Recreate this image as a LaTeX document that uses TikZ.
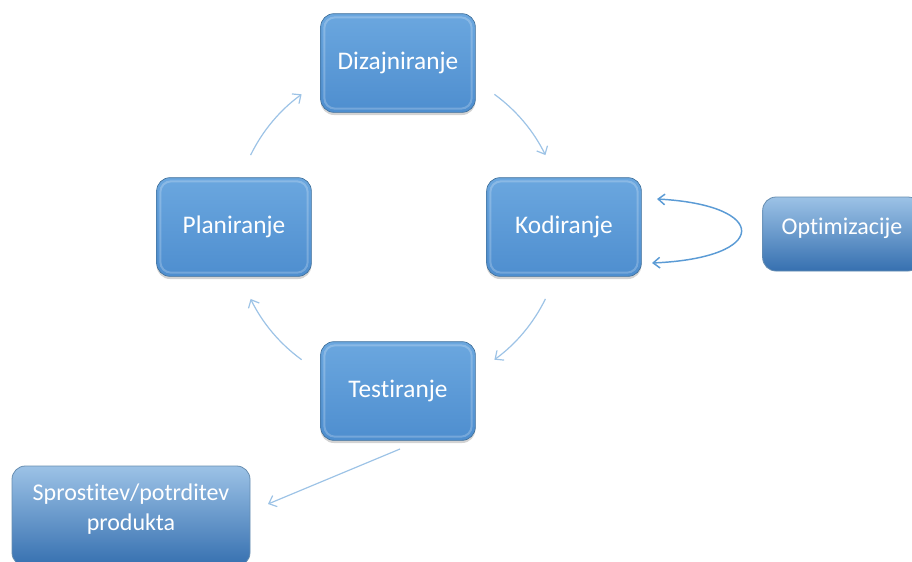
\documentclass[tikz,border=0pt]{standalone}
\usepackage{fontspec}
\setmainfont{Carlito}[Ligatures=NoCommon]
\usetikzlibrary{shadows,arrows.meta}
\definecolor{cyctop}{HTML}{6BA7DF}
\definecolor{cycbot}{HTML}{4E8ECF}
\definecolor{cycedge}{HTML}{41719C}
\definecolor{outtop}{HTML}{9CC2E6}
\definecolor{outbot}{HTML}{3670B0}
\definecolor{arrlight}{HTML}{9DC3E6}
\definecolor{arrdark}{HTML}{5B9BD5}
\begin{document}
\begin{tikzpicture}[x=0.75pt,y=-0.75pt,
  boxtext/.style={text=white,font=\fontsize{18}{22.5}\selectfont,align=center},
  cyctext/.style={text=white,font=\fontsize{19}{23}\selectfont,align=center},
  cyclebox/.style={cyctext,rounded corners=10pt,minimum width=116pt,minimum height=74pt,
    top color=cyctop,bottom color=cycbot,draw=cycedge,line width=0.5pt,
    drop shadow={shadow xshift=0pt,shadow yshift=-2pt,opacity=0.35}},
  outbox/.style={boxtext,rounded corners=10pt,top color=outtop,bottom color=outbot,
    draw=cycedge!80,line width=0.6pt},
  bevel/.style={draw=white,opacity=0.22,line width=1.5pt,rounded corners=8pt},
  cyc/.style={draw=arrlight,line width=0.9pt,-{Straight Barb[length=5pt,width=9pt]}},
  loopar/.style={draw=arrdark,line width=1.1pt,{Straight Barb[length=5pt,width=8pt]}-{Straight Barb[length=5pt,width=8pt]}}
]
\useasboundingbox (0,0) rectangle (912,561);
\clip (0,0) rectangle (912,561);

% cycle boxes
\node[cyclebox] (diz) at (398,63) {Dizajniranje};
\node[cyclebox] (plan) at (234,227) {Planiranje};
\node[cyclebox] (kod) at (564,227) {Kodiranje};
\node[cyclebox] (test) at (398,391) {Testiranje};
\foreach \n in {diz,plan,kod,test}{
  \draw[bevel] ([xshift=3pt,yshift=-3pt]\n.north west) rectangle ([xshift=-3pt,yshift=3pt]\n.south east);
}

% outer boxes
\node[outbox,minimum width=119pt,minimum height=55.5pt] (opt) at (842,234) {};
\node[boxtext] (optt) at (842,228) {Optimizacije};
\node[outbox,minimum width=178.5pt,minimum height=75pt] (spr) at (131,516) {};
\node[boxtext] (sprt) at (131,509) {Sprostitev/potrditev\\produkta};

% cycle arcs
\coordinate (c) at (398,227);
\path (c) ++(-154:164) coordinate (a1);
\path (c) ++(-54:164) coordinate (a2);
\path (c) ++(26:164) coordinate (a3);
\path (c) ++(126:164) coordinate (a4);
\draw[cyc] (a1) arc[start angle=-154,end angle=-126,radius=164];
\draw[cyc] (a2) arc[start angle=-54,end angle=-26,radius=164];
\draw[cyc] (a3) arc[start angle=26,end angle=54,radius=164];
\draw[cyc] (a4) arc[start angle=126,end angle=154,radius=164];

% loop at Kodiranje
\coordinate (ls) at (657,199);
\coordinate (le) at (652,263);
\draw[loopar] (ls) .. controls (770,205) and (770,258) .. (le);

% release arrow
\coordinate (ts) at (400,449);
\coordinate (te) at (268,504);
\draw[cyc] (ts) -- (te);
\end{tikzpicture}
\end{document}
